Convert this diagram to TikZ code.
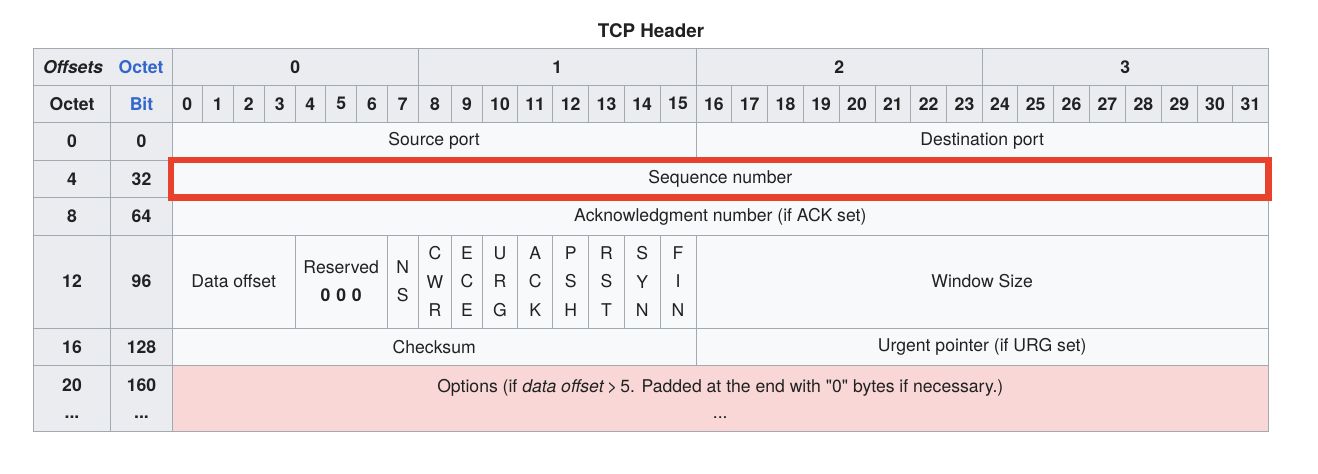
\documentclass[tikz,border=0pt]{standalone}
\usepackage{fontspec}
\setmainfont{TeX Gyre Heros}[Ligatures=TeXOff]
\begin{document}
\definecolor{hdrgray}{HTML}{EAECF0}
\definecolor{datagray}{HTML}{F8F9FA}
\definecolor{rulegray}{HTML}{A2A9B1}
\definecolor{inkcol}{HTML}{202122}
\definecolor{linkblue}{HTML}{3366CC}
\definecolor{optpink}{HTML}{F8D7D6}
\definecolor{markred}{HTML}{E8412C}
\tikzset{
  cell/.style={draw=rulegray, line width=1pt, inner sep=0pt, outer sep=0pt,
    text=inkcol, align=center, font=\fontsize{17.6}{28.3}\selectfont},
  hdr/.style={fill=hdrgray, font=\fontsize{17.6}{28.3}\selectfont\bfseries},
  dat/.style={fill=datagray},
  opt/.style={fill=optpink},
  label/.style={inner sep=0pt, text=inkcol, font=\fontsize{17.6}{20}\selectfont\bfseries},
}
% \tablecell{name}{x1}{y1}{x2}{y2}{style}{text}
\newcommand\tablecell[7]{%
  \node[cell,#6,minimum width={(#4-#2)*1pt},minimum height={(#5-#3)*1pt}]
    (#1) at ({(#2+#4)/2},{(#3+#5)/2}) {#7};}
\begin{tikzpicture}[x=1pt,y=-1pt]
\useasboundingbox[fill=white] (0,0) rectangle (1318,474);

\node[label, font=\fontsize{18.8}{20}\selectfont\bfseries] (title) at (651,31) {TCP Header};

% header row: offsets and octet numbers
\tablecell{offs}{33.3}{48.3}{172.3}{85.3}{hdr}{}
\node[label] (offsets) at (73,66.8) {\itshape Offsets};
\node[label, text=linkblue] (octethead) at (141,66.8) {Octet};
\tablecell{byte0}{172.3}{48.3}{418.3}{85.3}{hdr}{0}
\tablecell{byte1}{418.3}{48.3}{696}{85.3}{hdr}{1}
\tablecell{byte2}{696}{48.3}{982.3}{85.3}{hdr}{2}
\tablecell{byte3}{982.3}{48.3}{1268.3}{85.3}{hdr}{3}

% header row: bit numbers
\tablecell{octetcol}{33.3}{85.3}{110.7}{122.3}{hdr}{Octet}
\tablecell{bitcol}{110.7}{85.3}{172.3}{122.3}{hdr,text=linkblue}{Bit}
\foreach \n/\a/\b in {0/172.3/202.3, 1/202.3/233.3, 2/233.3/264.3, 3/264.3/295,
    4/295/325.7, 5/325.7/356.7, 6/356.7/387.3, 7/387.3/418.3, 8/418.3/451.7,
    9/451.7/482.3, 10/482.3/517.7, 11/517.7/552.7, 12/552.7/588.7, 13/588.7/624.3,
    14/624.3/660, 15/660/696, 16/696/731.7, 17/731.7/767.7, 18/767.7/803.3,
    19/803.3/839, 20/839/875, 21/875/910.7, 22/910.7/946.7, 23/946.7/982.3,
    24/982.3/1017.7, 25/1017.7/1053.7, 26/1053.7/1089.3, 27/1089.3/1125.3,
    28/1125.3/1161.3, 29/1161.3/1197.3, 30/1197.3/1232.7, 31/1232.7/1268.3}
  {\tablecell{bit\n}{\a}{85.3}{\b}{122.3}{hdr}{\n}}

% offset columns
\foreach \r/\o/\b/\ya/\yb in {0/0/0/122.3/160, 1/4/32/160/197.7, 2/8/64/197.7/235,
    3/12/96/235/328, 4/16/128/328/365.7}
  {\tablecell{oct\r}{33.3}{\ya}{110.7}{\yb}{hdr}{\o}
   \tablecell{bo\r}{110.7}{\ya}{172.3}{\yb}{hdr}{\b}}
\tablecell{oct5}{33.3}{365.7}{110.7}{431.7}{hdr}{20\\[-2pt]...}
\tablecell{bo5}{110.7}{365.7}{172.3}{431.7}{hdr}{160\\[-2pt]...}

% header fields
\tablecell{srcport}{172.3}{122.3}{696}{160}{dat}{Source port}
\tablecell{dstport}{696}{122.3}{1268.3}{160}{dat}{Destination port}
\tablecell{seqnum}{172.3}{160}{1268.3}{197.7}{dat}{Sequence number}
\tablecell{acknum}{172.3}{197.7}{1268.3}{235}{dat}{Acknowledgment number (if ACK set)}
\tablecell{dataoff}{172.3}{235}{295}{328}{dat}{Data offset}
\tablecell{reserved}{295}{235}{387.3}{328}{dat}{Reserved\\\textbf{0\,\,0\,\,0}}
\tablecell{ns}{387.3}{235}{418.3}{328}{dat}{N\\S}
\tablecell{cwr}{418.3}{235}{451.7}{328}{dat}{C\\W\\R}
\tablecell{ece}{451.7}{235}{482.3}{328}{dat}{E\\C\\E}
\tablecell{urg}{482.3}{235}{517.7}{328}{dat}{U\\R\\G}
\tablecell{ack}{517.7}{235}{552.7}{328}{dat}{A\\C\\K}
\tablecell{psh}{552.7}{235}{588.7}{328}{dat}{P\\S\\H}
\tablecell{rst}{588.7}{235}{624.3}{328}{dat}{R\\S\\T}
\tablecell{syn}{624.3}{235}{660}{328}{dat}{S\\Y\\N}
\tablecell{fin}{660}{235}{696}{328}{dat}{F\\I\\N}
\tablecell{window}{696}{235}{1268.3}{328}{dat}{Window Size}
\tablecell{checksum}{172.3}{328}{696}{365.7}{dat}{Checksum}
\tablecell{urgptr}{696}{328}{1268.3}{365.7}{dat}{Urgent pointer (if URG set)}
\tablecell{options}{172.3}{365.7}{1268.3}{431.7}{opt}
  {Options (if \textit{data offset}\,>\,5. Padded at the end with "0" bytes if necessary.)\\[-2pt]...}

% highlight around the sequence number
\node[draw=markred, line width=6.5pt, inner sep=0pt,
  minimum width=1097.9pt, minimum height=37.5pt] (seqmark) at (719.75,178.75) {};
\end{tikzpicture}
\end{document}
